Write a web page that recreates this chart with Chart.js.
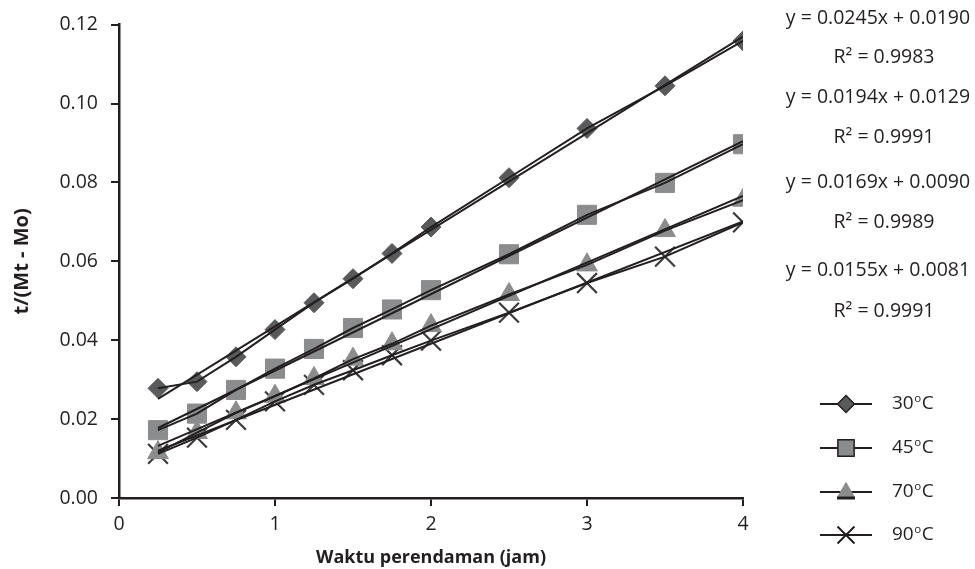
<!DOCTYPE html>
<html>
<head>
<meta charset="utf-8">
<script src="https://cdn.jsdelivr.net/npm/chart.js@4/dist/chart.umd.min.js"></script>
<style>
html,body{margin:0;padding:0;background:#ffffff;}
#wrap{width:975px;height:569px;position:relative;}
</style>
</head>
<body>
<div id="wrap"><canvas id="c" width="975" height="569"></canvas></div>
<script>
// ---- data ----
const hours = [0.25, 0.5, 0.75, 1, 1.25, 1.5, 1.75, 2, 2.5, 3, 3.5, 4];
const temp30 = [0.0278, 0.0295, 0.0358, 0.0427, 0.0495, 0.0556, 0.0620, 0.0687, 0.0812, 0.0937, 0.1045, 0.1159];
const temp45 = [0.0172, 0.0214, 0.0274, 0.0328, 0.0378, 0.0431, 0.0478, 0.0527, 0.0618, 0.0718, 0.0799, 0.0897];
const temp70 = [0.0115, 0.0166, 0.0216, 0.0258, 0.0303, 0.0352, 0.0391, 0.0437, 0.0516, 0.0591, 0.0678, 0.0755];
const temp90 = [0.0112, 0.0153, 0.0198, 0.0245, 0.0287, 0.0324, 0.0362, 0.0399, 0.0470, 0.0545, 0.0612, 0.0699];
const seriesNames = ['30', '45', '70', '90'];
const slopes = [0.0245, 0.0194, 0.0169, 0.0155];
const intercepts = [0.0190, 0.0129, 0.0090, 0.0081];
const rSquared = [0.9983, 0.9991, 0.9989, 0.9991];
const yTicks = [0, 0.02, 0.04, 0.06, 0.08, 0.10, 0.12];
const xTicks = [0, 1, 2, 3, 4];
const xTitle = 'Waktu perendaman (jam)';
const yTitle = 't/(Mt - Mo)';

// ---- styles ----
const INK = '#231f20';
const FONT = '"Open Sans", "DejaVu Sans", sans-serif';
const allSeries = [temp30, temp45, temp70, temp90];
const markerStyles = [
  {pointStyle: 'rectRot', radius: 10, bg: '#595a5c', border: '#595a5c', bw: 1},
  {pointStyle: 'rect', radius: 13.5, bg: '#8b8c8e', border: '#8b8c8e', bw: 1},
  {pointStyle: 'triangle', radius: 12, bg: '#8b8c8e', border: '#8b8c8e', bw: 1},
  {pointStyle: 'crossRot', radius: 14, bg: '#3b3b3b', border: '#3b3b3b', bw: 2.2}
];

const datasets = [];
allSeries.forEach((vals, i) => {
  const pts = hours.map((h, k) => ({x: h, y: vals[k]}));
  const m = markerStyles[i];
  datasets.push({
    label: seriesNames[i] + ' markers', data: pts, showLine: false,
    pointStyle: m.pointStyle, pointRadius: m.radius, pointBackgroundColor: m.bg,
    pointBorderColor: m.border, pointBorderWidth: m.bw, order: 3
  });
  datasets.push({
    label: seriesNames[i] + ' line', data: pts, showLine: true, pointRadius: 0,
    borderColor: INK, borderWidth: 2, tension: 0, order: 2
  });
  const x0 = hours[0], x1 = hours[hours.length - 1];
  datasets.push({
    label: seriesNames[i] + ' trend', showLine: true, pointRadius: 0,
    data: [{x: x0, y: slopes[i] * x0 + intercepts[i]}, {x: x1, y: slopes[i] * x1 + intercepts[i]}],
    borderColor: INK, borderWidth: 2, order: 1
  });
});

const sidePlugin = {
  id: 'sideText',
  afterDraw(chart) {
    const ctx = chart.ctx;
    ctx.save();
    // equations
    ctx.fillStyle = INK;
    ctx.font = '19.5px ' + FONT;
    ctx.textAlign = 'center';
    ctx.textBaseline = 'middle';
    const eqY = [[18, 57], [97, 137], [182, 222], [270, 311]];
    for (let i = 0; i < 4; i++) {
      ctx.fillText('y = ' + slopes[i].toFixed(4) + 'x + ' + intercepts[i].toFixed(4), 878, eqY[i][0]);
      ctx.fillText('R\u00B2 = ' + rSquared[i].toFixed(4), 884, eqY[i][1]);
    }
    // legend
    const legY = [404, 448, 492, 535];
    const legMarkers = [
      {pointStyle: 'rectRot', radius: 8.5, bg: '#595a5c', border: INK, bw: 1.5},
      {pointStyle: 'rect', radius: 11.5, bg: '#8b8c8e', border: INK, bw: 1.5},
      {pointStyle: 'triangle', radius: 9.5, bg: '#8b8c8e', border: '#8b8c8e', bw: 1},
      {pointStyle: 'crossRot', radius: 12, bg: INK, border: INK, bw: 2}
    ];
    for (let i = 0; i < 4; i++) {
      const y = legY[i];
      ctx.strokeStyle = INK;
      ctx.lineWidth = 2;
      ctx.beginPath(); ctx.moveTo(820, y); ctx.lineTo(872, y); ctx.stroke();
      const m = legMarkers[i];
      ctx.fillStyle = m.bg; ctx.strokeStyle = m.border; ctx.lineWidth = m.bw;
      Chart.helpers.drawPoint(ctx, {pointStyle: m.pointStyle, radius: m.radius, rotation: 0, borderWidth: m.bw}, 846, y);
      if (m.pointStyle === 'triangle') {
        ctx.strokeStyle = INK; ctx.lineWidth = 3;
        ctx.beginPath(); ctx.moveTo(837, y + 6); ctx.lineTo(855, y + 6); ctx.stroke();
      }
      // label with superscript o
      ctx.fillStyle = INK;
      ctx.textAlign = 'left';
      ctx.textBaseline = 'middle';
      ctx.font = '19px ' + FONT;
      let x = 892;
      ctx.fillText(seriesNames[i], x, y);
      x += ctx.measureText(seriesNames[i]).width + 0.5;
      ctx.font = '11.5px ' + FONT;
      ctx.fillText('o', x, y - 5);
      x += ctx.measureText('o').width + 0.5;
      ctx.font = '19px ' + FONT;
      ctx.fillText('C', x, y);
    }
    ctx.restore();
  }
};

new Chart(document.getElementById('c'), {
  type: 'scatter',
  data: {datasets},
  options: {
    responsive: false,
    devicePixelRatio: 1,
    animation: false,
    events: [],
    layout: {padding: {left: 0, right: 232, top: 18, bottom: 0}},
    plugins: {legend: {display: false}, tooltip: {enabled: false}},
    scales: {
      x: {
        type: 'linear', min: 0, max: 4,
        afterBuildTicks: s => { s.ticks = xTicks.map(v => ({value: v})); },
        afterFit: s => { s.height = 71; },
        ticks: {color: INK, font: {family: FONT, size: 19.5}, padding: 7},
        grid: {drawOnChartArea: false, drawTicks: true, tickLength: 8, color: INK, lineWidth: 2},
        border: {color: INK, width: 2.5},
        title: {display: true, text: xTitle, color: INK, font: {family: FONT, size: 18, weight: 'bold'}, padding: {top: 0, bottom: 0}}
      },
      y: {
        type: 'linear', min: 0, max: 0.12,
        afterBuildTicks: s => { s.ticks = yTicks.map(v => ({value: v})); },
        afterFit: s => { s.width = 119; },
        ticks: {color: INK, font: {family: FONT, size: 19.5}, padding: 13, callback: v => Number(v).toFixed(2)},
        grid: {drawOnChartArea: false, drawTicks: true, tickLength: 8, color: INK, lineWidth: 2},
        border: {color: INK, width: 2.5},
        title: {display: true, text: yTitle, color: INK, font: {family: FONT, size: 20, weight: 'bold'}, padding: {top: 10, bottom: 0}}
      }
    }
  },
  plugins: [sidePlugin]
});
</script>
</body>
</html>
